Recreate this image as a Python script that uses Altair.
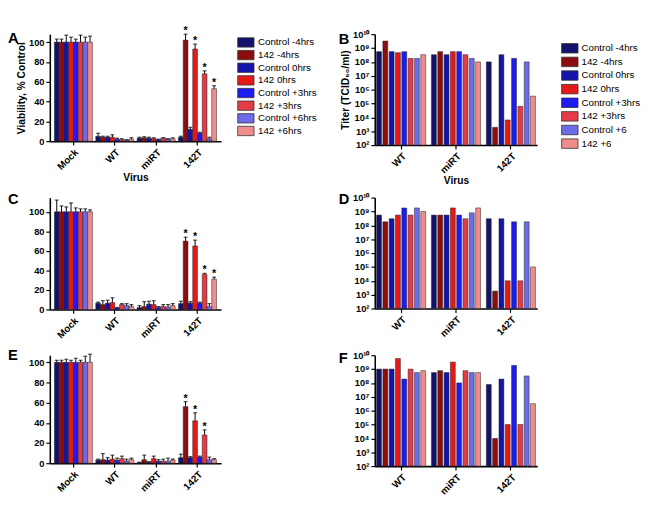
import altair as alt
import pandas as pd

GROUPS_V = ["Mock", "WT", "miRT", "142T"]
GROUPS_T = ["WT", "miRT", "142T"]
SERIES_V = ["Control -4hrs", "142 -4hrs", "Control 0hrs", "142 0hrs",
            "Control +3hrs", "142 +3hrs", "Control +6hrs", "142 +6hrs"]
SERIES_T = ["Control -4hrs", "142 -4hrs", "Control 0hrs", "142 0hrs",
            "Control +3hrs", "142 +3hrs", "Control +6", "142 +6"]
COLORS = ["#12126c", "#8c0d0d", "#1414a8", "#e61919",
          "#1c1cf0", "#e43c46", "#6c6ce8", "#f08c8c"]

# Viability (% control): rows = groups (Mock, WT, miRT, 142T), cols = series
A_MEAN = [[100, 100, 100, 100, 100, 100, 100, 100],
          [5, 4, 4, 4, 2, 1.5, 1, 2],
          [3, 3.5, 3, 2.5, 1.5, 3, 2, 2.5],
          [4, 102, 12, 93, 8, 68, 2.5, 53]]
A_ERR = [[3, 3, 7, 5, 3, 7, 5, 6],
         [3, 1, 1, 2.5, 1, 1, 0.5, 1.5],
         [1, 1, 1, 1, 0.5, 0.5, 0.5, 1],
         [1, 6, 2, 5, 1, 3, 1.5, 3]]
A_STAR = ["142 -4hrs", "142 0hrs", "142 +3hrs", "142 +6hrs"]

C_MEAN = [[100, 100, 100, 100, 100, 100, 100, 100],
          [6.5, 5, 6.5, 7, 1.5, 5, 4, 3],
          [2, 3, 5.5, 5, 2, 3, 2.5, 4],
          [6, 70, 6.5, 65, 6.5, 36, 3, 31]]
C_ERR = [[12, 6, 5, 9, 4, 3, 3, 2],
         [1, 4, 3, 5, 0.5, 1, 2, 2],
         [2, 5, 3, 4, 1, 2, 2.5, 2],
         [2.5, 4, 1.5, 6, 1, 1, 3, 2]]
C_STAR = ["142 -4hrs", "142 0hrs", "142 +3hrs", "142 +6hrs"]

E_MEAN = [[100, 100, 100, 100, 100, 100, 100, 100],
          [3, 3.5, 3, 4, 3, 4.5, 2, 3.5],
          [0.5, 3.5, 1, 4.5, 2, 2, 2, 3],
          [5.5, 56, 5.5, 42, 6, 28, 3.5, 3.5]]
E_ERR = [[2, 2, 3, 2, 4, 2, 6, 8],
         [1, 6, 2.5, 4, 2, 2.5, 2, 1.5],
         [0.5, 4.5, 0.5, 2.5, 1.5, 2, 3, 1],
         [3.5, 5, 1, 8, 1, 5, 2.5, 1]]
E_STAR = ["142 -4hrs", "142 0hrs", "142 +3hrs"]

# Titer (TCID50/ml): rows = groups (WT, miRT, 142T)
B_TITER = [[5.5e8, 3.2e9, 5.5e8, 4.6e8, 5.5e8, 1.8e8, 1.8e8, 3.3e8],
           [3.3e8, 5.5e8, 3.3e8, 5.5e8, 5.5e8, 3.3e8, 1.8e8, 1e8],
           [1e8, 1.9e3, 3.3e8, 6.5e3, 1.8e8, 6.3e4, 1e8, 3.4e5]]
D_TITER = [[5.5e8, 1.8e8, 3e8, 5.5e8, 1.8e9, 5.5e8, 1.8e9, 1e9],
           [5.5e8, 5.5e8, 5.5e8, 1.8e9, 5.5e8, 3e8, 8e8, 1.8e9],
           [3e8, 1.8e3, 3e8, 1e4, 1.8e8, 1e4, 1.8e8, 1e5]]
F_TITER = [[1e9, 1e9, 1e9, 5.8e9, 1.9e8, 1e9, 5.6e8, 7.7e8],
           [5.6e8, 7.7e8, 5.6e8, 3.2e9, 1e8, 7.7e8, 5.6e8, 5.6e8],
           [7.8e7, 1e4, 1.9e8, 1e5, 1.85e9, 1e5, 3.2e8, 3.2e6]]

FONT = "Liberation Sans"
LOG_TICKS = [1e2, 1e3, 1e4, 1e5, 1e6, 1e7, 1e8, 1e9, 1e10]
SUP = "['⁰','¹','²','³','⁴','⁵','⁶','⁷','⁸','⁹','¹⁰']"


def letter_layer(letter, dx, dy):
    return alt.Chart(pd.DataFrame({"lab": [letter]})).mark_text(
        align="left", baseline="alphabetic", fontSize=15, fontWeight="bold", font=FONT
    ).encode(x=alt.value(dx), y=alt.value(dy), text="lab:N")


def viab_panel(means, errs, stars, letter, height, ymax, legend, xtitle, ytitle_color, letter_dy):
    rows = []
    for gi, g in enumerate(GROUPS_V):
        for si, s in enumerate(SERIES_V):
            m = means[gi][si]
            e = errs[gi][si]
            rows.append({"group": g, "series": s, "mean": m, "top": m + e,
                         "star": 1 if (g == "142T" and s in stars) else 0})
    df = pd.DataFrame(rows)
    base = alt.Chart(df)
    x = alt.X("group:N", sort=GROUPS_V,
              scale=alt.Scale(domain=GROUPS_V, paddingInner=0.08, paddingOuter=0.11),
              axis=alt.Axis(title="Virus" if xtitle else None, labelAngle=-45,
                            labelAlign="right", labelBaseline="top"))
    xo = alt.XOffset("series:N", sort=SERIES_V,
                     scale=alt.Scale(domain=SERIES_V, paddingInner=0, paddingOuter=0))
    yscale = alt.Scale(domain=[0, ymax], nice=False, zero=True)
    yaxis = alt.Axis(values=[0, 20, 40, 60, 80, 100], title="Viability, % Control",
                     titleColor=ytitle_color)
    if legend:
        leg = alt.Legend(title=None, symbolType="M-1.4,-0.8H1.4V0.8H-1.4Z", symbolSize=144,
                         symbolStrokeColor="#333333", symbolStrokeWidth=0.8,
                         symbolOpacity=1, rowPadding=0, labelOffset=6, labelFontSize=10,
                         labelFont=FONT, offset=17, padding=2)
    else:
        leg = None
    color = alt.Color("series:N", scale=alt.Scale(domain=SERIES_V, range=COLORS),
                      sort=SERIES_V, legend=leg)
    bars = base.mark_bar(stroke="#222222", strokeWidth=0.5, opacity=1).encode(
        x=x, xOffset=xo, y=alt.Y("mean:Q", scale=yscale, axis=yaxis), color=color)
    rules = base.mark_rule(color="black", strokeWidth=1).encode(
        x=x, xOffset=xo, y=alt.Y("mean:Q", scale=yscale, axis=yaxis), y2="top:Q")
    caps = base.mark_tick(color="black", thickness=1.2, size=4).encode(
        x=x, xOffset=xo, y=alt.Y("top:Q", scale=yscale, axis=yaxis))
    st = base.transform_filter(alt.datum.star == 1).mark_text(
        text="*", dy=-3, fontSize=11, fontWeight="bold", font=FONT, color="black").encode(
        x=x, xOffset=xo, y=alt.Y("top:Q", scale=yscale, axis=yaxis))
    return alt.layer(bars, rules, caps, st, letter_layer(letter, -43, letter_dy)).properties(
        width=176, height=height)


def titer_panel(vals, letter, legend, xtitle, ytitle_color, letter_dy):
    rows = []
    for gi, g in enumerate(GROUPS_T):
        for si, s in enumerate(SERIES_T):
            rows.append({"group": g, "series": s, "titer": vals[gi][si], "base": 100})
    df = pd.DataFrame(rows)
    base = alt.Chart(df)
    x = alt.X("group:N", sort=GROUPS_T,
              scale=alt.Scale(domain=GROUPS_T, paddingInner=0.08, paddingOuter=0.02),
              axis=alt.Axis(title="Virus" if xtitle else None, labelAngle=-45,
                            labelAlign="right", labelBaseline="top"))
    xo = alt.XOffset("series:N", sort=SERIES_T,
                     scale=alt.Scale(domain=SERIES_T, paddingInner=0.22, paddingOuter=0.11))
    yscale = alt.Scale(type="log", domain=[1e2, 1e10], nice=False)
    yaxis = alt.Axis(values=LOG_TICKS, title="Titer (TCID₅₀/ml)", titleColor=ytitle_color,
                     labelExpr="'10' + " + SUP + "[round(log(datum.value)/LN10)]")
    if legend:
        leg = alt.Legend(title=None, symbolType="M-1.3,-0.75H1.3V0.75H-1.3Z", symbolSize=169,
                         symbolStrokeColor="#333333", symbolStrokeWidth=0.8,
                         symbolOpacity=1, rowPadding=0, labelOffset=5, labelFontSize=10,
                         labelFont=FONT, offset=19, padding=7.5)
    else:
        leg = None
    color = alt.Color("series:N", scale=alt.Scale(domain=SERIES_T, range=COLORS),
                      sort=SERIES_T, legend=leg)
    bars = base.mark_bar(stroke="#222222", strokeWidth=0.5, opacity=1).encode(
        x=x, xOffset=xo, y=alt.Y("titer:Q", scale=yscale, axis=yaxis), y2="base:Q",
        color=color)
    return alt.layer(bars, letter_layer(letter, -37, letter_dy)).properties(
        width=167, height=114)


A = viab_panel(A_MEAN, A_ERR, A_STAR, "A", 110, 108, True, True, "black", 9)
B = titer_panel(B_TITER, "B", True, True, "black", 10)
C = viab_panel(C_MEAN, C_ERR, C_STAR, "C", 115, 114.5, False, False, "transparent", 7)
D = titer_panel(D_TITER, "D", False, False, "transparent", 7)
E = viab_panel(E_MEAN, E_ERR, E_STAR, "E", 111, 107, False, False, "transparent", 5)
F = titer_panel(F_TITER, "F", False, False, "transparent", 8)

RES = dict(color="independent", xOffset="independent", x="independent", y="independent")


def row(left, right):
    return alt.hconcat(left, right, spacing=158, bounds="flush").resolve_scale(**RES)


lower = alt.vconcat(row(C, D), row(E, F), spacing=8).resolve_scale(**RES)
chart = alt.vconcat(row(A, B), lower, spacing=6).resolve_scale(**RES).properties(
    padding={"left": 0, "top": 11, "right": 5, "bottom": 0}
).configure_view(stroke=None).configure_axis(
    grid=False, domainColor="black", domainWidth=1.6, tickColor="black", tickWidth=1.2,
    tickSize=4, labelFont=FONT, labelFontWeight="bold", labelFontSize=9.5, labelColor="black",
    labelPadding=2, titleFont=FONT, titleFontWeight="bold", titleFontSize=10.5,
    titleColor="black", titlePadding=2
).configure_axisX(labelFontSize=10, titlePadding=1)

chart.save("out.html", embed_options={"renderer": "svg", "actions": False})
